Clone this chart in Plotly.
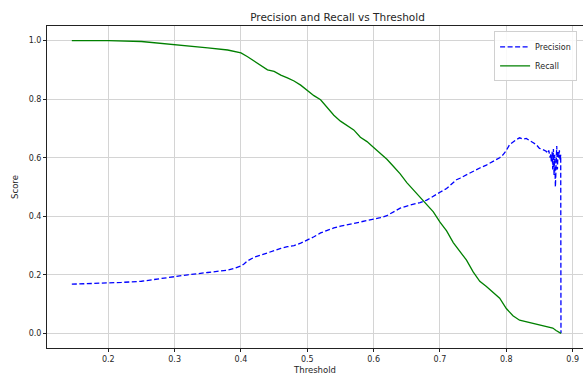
import plotly.graph_objects as go

# ---- data ----
thr_precision = [0.145, 0.16, 0.18, 0.20, 0.22, 0.25, 0.27, 0.30, 0.32, 0.35, 0.37, 0.38, 0.39, 0.40,
                 0.405, 0.41, 0.42, 0.43, 0.45, 0.46, 0.47, 0.48, 0.49, 0.50, 0.51, 0.52, 0.53, 0.54,
                 0.55, 0.57, 0.59, 0.60, 0.61, 0.62, 0.63, 0.64, 0.65, 0.66, 0.67, 0.68, 0.69, 0.70,
                 0.71, 0.72, 0.725, 0.73, 0.74, 0.75, 0.76, 0.77, 0.78, 0.79, 0.795, 0.80, 0.805,
                 0.81, 0.815, 0.82, 0.825, 0.83, 0.835, 0.84, 0.845, 0.85, 0.855, 0.86, 0.862, 0.864,
                 0.866, 0.867, 0.868, 0.869, 0.870, 0.871, 0.872, 0.873, 0.874, 0.875, 0.876, 0.877,
                 0.878, 0.879, 0.880, 0.881, 0.882, 0.8824]
precision = [0.168, 0.169, 0.171, 0.172, 0.174, 0.178, 0.185, 0.195, 0.200, 0.208, 0.213, 0.216, 0.222, 0.230,
             0.238, 0.248, 0.260, 0.268, 0.282, 0.290, 0.296, 0.300, 0.308, 0.318, 0.330, 0.343, 0.352, 0.360,
             0.366, 0.375, 0.385, 0.390, 0.395, 0.402, 0.415, 0.428, 0.435, 0.440, 0.447, 0.455, 0.470, 0.482,
             0.495, 0.515, 0.525, 0.530, 0.542, 0.553, 0.565, 0.575, 0.588, 0.600, 0.610, 0.625, 0.645,
             0.655, 0.662, 0.668, 0.664, 0.666, 0.660, 0.652, 0.645, 0.632, 0.628, 0.622, 0.615, 0.625,
             0.600, 0.612, 0.585, 0.620, 0.560, 0.630, 0.540, 0.610, 0.500, 0.580, 0.640, 0.560,
             0.620, 0.600, 0.625, 0.590, 0.610, 0.0]

thr_recall = [0.145, 0.20, 0.25, 0.30, 0.35, 0.38, 0.40, 0.41, 0.42, 0.43, 0.44, 0.45, 0.46, 0.47, 0.48,
              0.49, 0.50, 0.51, 0.52, 0.53, 0.54, 0.55, 0.56, 0.57, 0.58, 0.59, 0.60, 0.61, 0.62, 0.63,
              0.64, 0.65, 0.66, 0.67, 0.68, 0.69, 0.70, 0.71, 0.72, 0.73, 0.74, 0.75, 0.76, 0.77, 0.78,
              0.79, 0.80, 0.81, 0.82, 0.83, 0.84, 0.85, 0.86, 0.87, 0.875, 0.8824]
recall = [1.0, 1.0, 0.997, 0.987, 0.975, 0.968, 0.958, 0.945, 0.930, 0.915, 0.900, 0.895, 0.882, 0.873, 0.862,
          0.848, 0.830, 0.812, 0.798, 0.770, 0.745, 0.725, 0.710, 0.695, 0.670, 0.655, 0.635, 0.615, 0.595, 0.570,
          0.545, 0.515, 0.490, 0.462, 0.440, 0.415, 0.380, 0.350, 0.310, 0.280, 0.250, 0.210, 0.178, 0.160, 0.140,
          0.120, 0.085, 0.060, 0.045, 0.040, 0.035, 0.030, 0.025, 0.018, 0.010, 0.0]

x_ticks = [0.2, 0.3, 0.4, 0.5, 0.6, 0.7, 0.8, 0.9]
y_ticks = [0.0, 0.2, 0.4, 0.6, 0.8, 1.0]

FONT = "DejaVu Sans"
TXT = "#262626"

fig = go.Figure()
fig.add_trace(go.Scatter(x=thr_precision, y=precision, mode="lines", name="Precision",
                         line=dict(color="#0000ff", width=1.3, dash="5px,2.5px")))
fig.add_trace(go.Scatter(x=thr_recall, y=recall, mode="lines", name="Recall",
                         line=dict(color="#008000", width=1.3)))

fig.update_layout(
    width=583, height=377,
    margin=dict(l=47, r=0, t=26, b=29),
    paper_bgcolor="white", plot_bgcolor="white",
    font=dict(family=FONT, size=8, color=TXT),
    title=dict(text="Precision and Recall vs Threshold", x=316 / 583, xanchor="center",
               y=1 - 17 / 377, yanchor="middle", xref="paper", yref="container",
               font=dict(family=FONT, size=10.5, color=TXT)),
    legend=dict(x=0.989, y=0.983, xanchor="right", yanchor="top",
                bgcolor="rgba(255,255,255,0.85)", bordercolor="#d0d0d0", borderwidth=1,
                font=dict(family=FONT, size=8, color=TXT), itemwidth=30,
                tracegroupgap=0),
    showlegend=True,
)
fig.update_xaxes(range=[0.1076, 0.9156], tickvals=x_ticks, ticktext=[f"{v:.1f}" for v in x_ticks],
                 showgrid=True, gridcolor="#d4d4d4", gridwidth=1, zeroline=False,
                 showline=True, linecolor="#222222", linewidth=1, mirror=True,
                 ticks="outside", ticklen=3, tickcolor="#222222",
                 title=dict(text="Threshold", standoff=4, font=dict(family=FONT, size=8.5, color=TXT)))
fig.update_yaxes(range=[-0.05, 1.05], tickvals=y_ticks, ticktext=[f"{v:.1f}" for v in y_ticks],
                 showgrid=True, gridcolor="#d4d4d4", gridwidth=1, zeroline=False,
                 showline=True, linecolor="#222222", linewidth=1, mirror=False,
                 ticks="outside", ticklen=3, tickcolor="#222222",
                 title=dict(text="Score", standoff=8, font=dict(family=FONT, size=8.5, color=TXT)))

fig.write_html("out.html")
